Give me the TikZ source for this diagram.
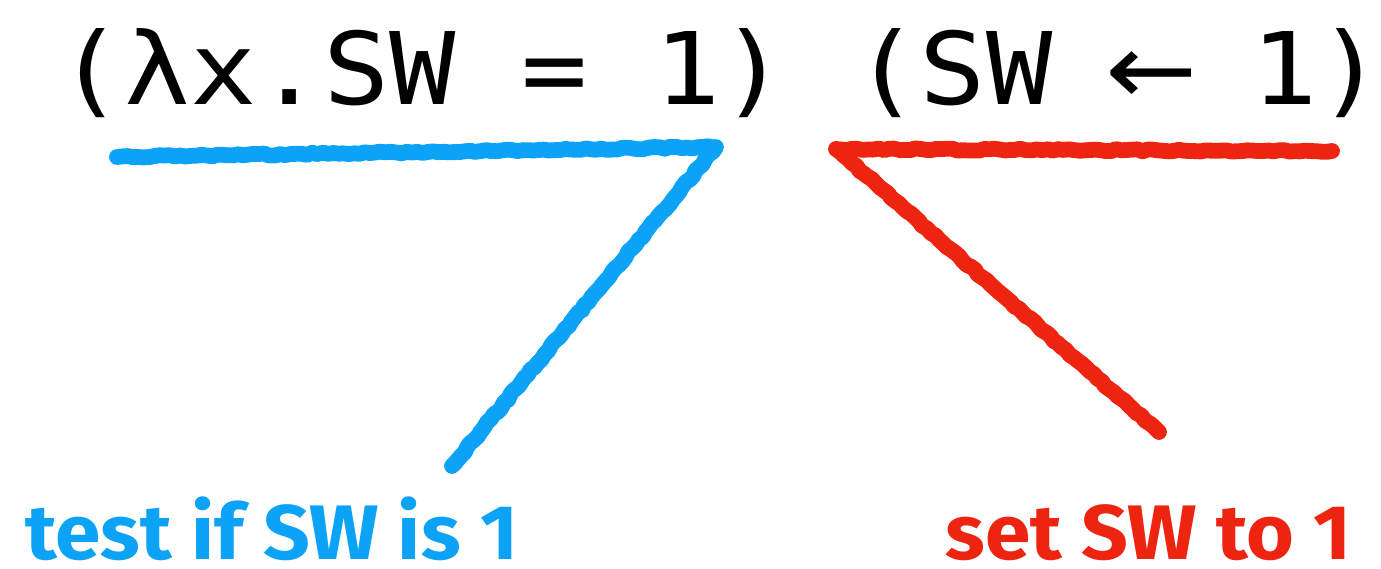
\documentclass[tikz,border=0pt]{standalone}
\usepackage{fontspec}
\usetikzlibrary{decorations.pathmorphing}
\newfontfamily\codefont{DejaVu Sans Mono}
\newfontfamily\arrowfont{DejaVu Sans}
\newfontfamily\notefont{Fira Sans}
\definecolor{testblue}{RGB}{12,162,246}
\definecolor{setred}{RGB}{236,36,16}
\newcommand{\bigarrow}{\makebox[0.602em]{\arrowfont ←}}
\tikzset{
  code/.style={font=\codefont\fontsize{57}{57}\selectfont, anchor=base, inner sep=0pt, xscale=1.1},
  note/.style={font=\notefont\bfseries\fontsize{44}{44}\selectfont, anchor=base, inner sep=0pt, xscale=1.06},
  scribble/.style={line width=9pt, line cap=round, line join=round,
    decorate, decoration={random steps, segment length=3pt, amplitude=0.6pt}}
}
\begin{document}
\begin{tikzpicture}[x=0.02cm, y=-0.02cm]
\useasboundingbox (0,0) rectangle (1381,568);

% Expression
\node[code] (expr) at (721,104) {(λx.SW = 1) (SW \bigarrow{} 1)};

% Test part
\coordinate (tl) at (117,157);
\coordinate (tc) at (716,147);
\coordinate (te) at (452,466);
\draw[scribble, testblue] (tl) -- (tc) -- (te);
\node[note, testblue, anchor=base west] (test) at (25,559) {test if SW is 1};

% Set part
\coordinate (sr) at (1332,151);
\coordinate (sc) at (836,149);
\coordinate (se) at (1159,432);
\draw[scribble, setred] (sr) -- (sc) -- (se);
\node[note, setred, anchor=base east] (set) at (1352,559) {set SW to 1};
\end{tikzpicture}
\end{document}
